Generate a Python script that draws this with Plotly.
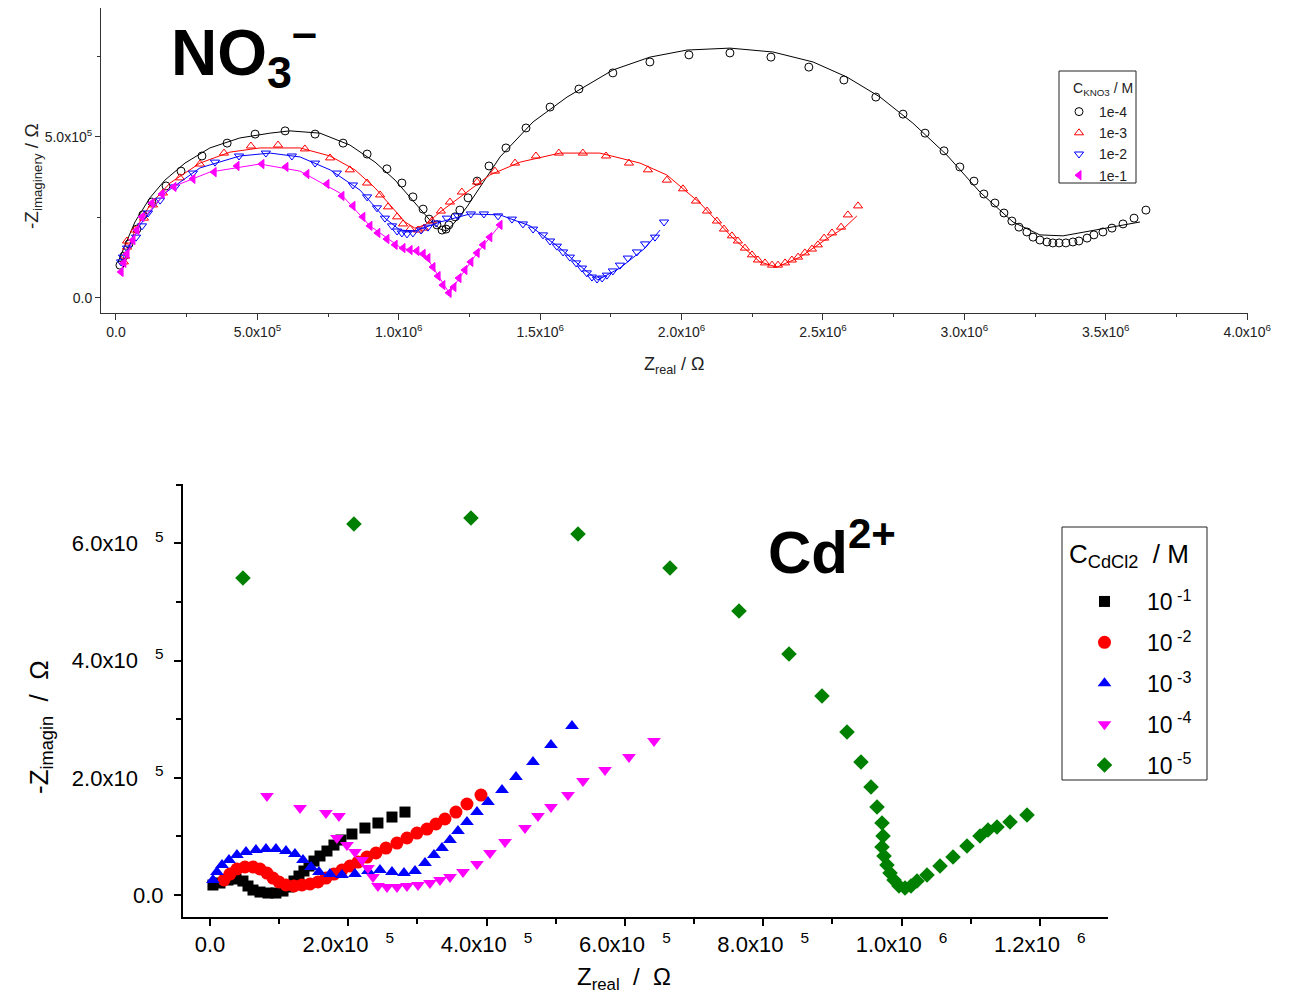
import numpy as np
import plotly.graph_objects as go

# ---------------- DATA (values in units of 1e5 Ohm) ----------------
# Top panel: NO3- (KNO3) Nyquist data + fits
kno3_labels = ["1e-4", "1e-3", "1e-2", "1e-1"]

no3_a_zre = [0.14, 0.28, 0.46, 0.74, 0.95, 1.27, 1.77, 2.30, 3.04, 3.93, 4.92, 5.98, 7.04, 8.03, 8.88, 9.58,
             10.11, 10.50, 10.86, 11.07, 11.35, 11.53, 11.67, 11.77, 11.99, 12.16, 12.45, 12.77, 13.19, 13.79,
             14.50, 15.35, 16.37, 17.57, 18.88, 20.26, 21.71, 23.16, 24.50, 25.74, 26.87, 27.83, 28.61, 29.28,
             29.84, 30.34, 30.69, 31.08, 31.40, 31.68, 31.93, 32.21, 32.43, 32.67, 32.92, 33.13, 33.35, 33.59,
             33.84, 34.05, 34.34, 34.58, 34.90, 35.22, 35.61, 36.00, 36.42]
no3_a_zim = [1.02, 1.30, 1.68, 2.14, 2.58, 2.98, 3.48, 3.94, 4.41, 4.81, 5.09, 5.19, 5.09, 4.81, 4.47, 4.01,
             3.57, 3.14, 2.76, 2.45, 2.27, 2.11, 2.14, 2.27, 2.52, 2.73, 3.11, 3.63, 4.10, 4.66,
             5.28, 5.93, 6.49, 6.99, 7.33, 7.55, 7.61, 7.48, 7.17, 6.77, 6.24, 5.71, 5.12, 4.57,
             4.07, 3.63, 3.23, 2.95, 2.64, 2.39, 2.20, 2.05, 1.89, 1.80, 1.74, 1.71, 1.71, 1.71,
             1.74, 1.77, 1.86, 1.96, 2.05, 2.17, 2.30, 2.48, 2.73]
no3_a_fit_zre = [0.07, 0.32, 0.67, 1.20, 1.73, 2.44, 3.32, 4.38, 5.45, 6.15, 7.21, 8.27, 9.16, 9.87, 10.57,
                 11.10, 11.46, 11.70, 11.99, 12.41, 13.58, 14.75, 15.95, 17.57, 18.88, 20.19, 21.71, 23.23,
                 24.65, 25.85, 27.02, 28.18, 29.38, 30.55, 31.72, 32.67, 33.49, 34.69, 36.21]
no3_a_fit_zim = [1.12, 1.65, 2.36, 3.11, 3.66, 4.19, 4.66, 4.97, 5.12, 5.19, 5.12, 4.75, 4.22, 3.66, 2.95,
                 2.42, 2.14, 2.08, 2.36, 2.83, 4.38, 5.47, 6.24, 7.08, 7.48, 7.70, 7.76, 7.64,
                 7.33, 6.86, 6.24, 5.43, 4.44, 3.29, 2.36, 1.96, 1.93, 2.11, 2.36]

no3_b_zre = [0.28, 0.32, 0.39, 0.39, 0.67, 0.99, 1.31, 1.66, 2.26, 2.97, 3.82, 4.77, 5.73, 6.68, 7.57, 8.27,
             8.88, 9.34, 9.62, 9.94, 10.15, 10.40, 10.68, 10.89, 11.17, 11.49, 11.81, 12.23, 12.77, 13.40,
             14.11, 14.85, 15.66, 16.51, 17.33, 18.14, 18.81, 19.48, 20.05, 20.51, 20.90, 21.25, 21.50,
             21.78, 21.99, 22.24, 22.49, 22.70, 22.95, 23.20, 23.41, 23.66, 23.90, 24.12, 24.36, 24.61,
             24.82, 25.04, 25.32, 25.64, 25.88, 26.24]
no3_b_zim = [1.12, 1.30, 1.58, 1.77, 2.11, 2.48, 2.89, 3.26, 3.73, 4.16, 4.50, 4.72, 4.75, 4.63, 4.35, 3.98,
             3.57, 3.20, 2.83, 2.52, 2.30, 2.14, 2.11, 2.17, 2.39, 2.70, 2.98, 3.29, 3.60, 3.94,
             4.19, 4.41, 4.50, 4.50, 4.41, 4.19, 3.98, 3.66, 3.39, 3.01, 2.70, 2.39, 2.14,
             1.93, 1.77, 1.55, 1.34, 1.18, 1.09, 1.02, 1.02, 1.09, 1.18, 1.27, 1.40, 1.52,
             1.65, 1.86, 2.02, 2.20, 2.58, 2.86]
no3_b_fit_zre = [0.32, 0.67, 1.20, 1.91, 2.97, 4.03, 5.09, 6.51, 7.57, 8.45, 9.16, 9.69, 10.22, 10.57, 10.93,
                 11.46, 12.52, 13.22, 14.29, 15.70, 17.11, 18.53, 19.48, 20.65, 21.82, 22.77, 23.37, 24.19,
                 25.07, 25.78, 26.20]
no3_b_fit_zim = [1.24, 2.11, 2.89, 3.57, 4.19, 4.53, 4.66, 4.66, 4.41, 3.98, 3.42, 2.89, 2.36, 2.17, 2.27,
                 2.67, 3.35, 3.82, 4.22, 4.50, 4.50, 4.19, 3.82, 2.95, 1.86, 1.12, 0.96, 1.27,
                 1.80, 2.20, 2.55]

no3_c_zre = [0.18, 0.25, 0.39, 0.71, 0.92, 1.13, 1.56, 2.09, 2.72, 3.50, 4.35, 5.30, 6.22, 7.04, 7.81, 8.38,
             8.88, 9.23, 9.51, 9.76, 9.94, 10.11, 10.29, 10.50, 10.79, 11.03, 11.32, 11.70, 12.09, 12.55,
             13.01, 13.51, 14.00, 14.39, 14.75, 15.10, 15.35, 15.59, 15.81, 16.05, 16.27, 16.48, 16.65,
             16.83, 17.01, 17.19, 17.36, 17.57, 17.82, 18.10, 18.42, 18.71, 19.06, 19.38]
no3_c_zim = [1.12, 1.27, 1.55, 1.89, 2.24, 2.64, 3.04, 3.45, 3.88, 4.22, 4.41, 4.50, 4.41, 4.19, 3.88, 3.51,
             3.14, 2.80, 2.48, 2.24, 2.08, 2.02, 1.99, 2.02, 2.11, 2.20, 2.33, 2.48, 2.55, 2.61,
             2.61, 2.55, 2.45, 2.30, 2.14, 1.96, 1.77, 1.61, 1.43, 1.27, 1.09, 0.93, 0.78,
             0.65, 0.59, 0.62, 0.71, 0.84, 1.02, 1.24, 1.43, 1.68, 1.89, 2.36]
no3_c_fit_zre = [0.25, 0.85, 1.73, 2.97, 4.38, 5.45, 6.51, 7.57, 8.63, 9.51, 10.04, 10.57, 11.46, 12.52,
                 13.58, 14.64, 15.70, 16.58, 17.04, 17.82, 18.71, 19.24]
no3_c_fit_zim = [1.24, 2.27, 3.26, 4.04, 4.41, 4.50, 4.38, 3.98, 3.35, 2.48, 2.11, 2.08, 2.36, 2.61,
                 2.58, 2.24, 1.55, 0.87, 0.56, 0.93, 1.55, 2.11]

no3_d_zre = [0.18, 0.28, 0.39, 0.60, 0.74, 0.92, 1.27, 1.63, 2.05, 2.72, 3.47, 4.28, 5.16, 6.01, 6.75, 7.46,
             7.99, 8.38, 8.73, 8.98, 9.26, 9.58, 9.87, 10.15, 10.40, 10.64, 10.86, 11.03, 11.21, 11.39,
             11.56, 11.78, 11.95, 12.13, 12.34, 12.55, 12.77, 12.98, 13.22, 13.58]
no3_d_zim = [0.81, 1.09, 1.37, 1.80, 2.11, 2.52, 2.95, 3.23, 3.45, 3.70, 3.91, 4.10, 4.16, 4.07, 3.85, 3.54,
             3.17, 2.86, 2.52, 2.24, 2.02, 1.83, 1.65, 1.55, 1.49, 1.46, 1.37, 1.24, 0.96, 0.68,
             0.40, 0.16, 0.34, 0.62, 0.87, 1.12, 1.40, 1.65, 1.89, 2.27]
no3_d_fit_zre = [0.18, 0.85, 1.91, 3.32, 5.09, 6.51, 7.92, 8.98, 10.04, 10.93, 11.78, 12.69, 13.58]
no3_d_fit_zim = [0.87, 2.36, 3.42, 3.91, 4.16, 3.94, 3.26, 2.24, 1.58, 1.34, 0.16, 1.30, 2.27]

# Bottom panel: Cd2+ (CdCl2) Nyquist data
cdcl2_labels = ["10<sup>&nbsp;-1</sup>", "10<sup>&nbsp;-2</sup>", "10<sup>&nbsp;-3</sup>",
                "10<sup>&nbsp;-4</sup>", "10<sup>&nbsp;-5</sup>"]

cd_1_zre = [0.043, 0.145, 0.260, 0.376, 0.477, 0.550, 0.622, 0.723, 0.839, 0.954, 1.056, 1.142, 1.215,
            1.287, 1.359, 1.432, 1.504, 1.591, 1.692, 1.793, 1.894, 2.053, 2.241, 2.429, 2.632, 2.820]
cd_1_zim = [0.171, 0.205, 0.256, 0.273, 0.239, 0.154, 0.085, 0.051, 0.034, 0.034, 0.068, 0.137, 0.239,
            0.324, 0.410, 0.495, 0.580, 0.666, 0.751, 0.853, 0.939, 1.041, 1.143, 1.229, 1.331, 1.416]

cd_2_zre = [0.202, 0.289, 0.390, 0.506, 0.622, 0.723, 0.824, 0.911, 0.998, 1.099, 1.215, 1.330, 1.446,
            1.562, 1.677, 1.793, 1.909, 2.025, 2.140, 2.270, 2.401, 2.545, 2.704, 2.849, 2.993, 3.138,
            3.268, 3.398, 3.557, 3.716, 3.919]
cd_2_zim = [0.256, 0.358, 0.444, 0.478, 0.478, 0.444, 0.375, 0.290, 0.222, 0.171, 0.154, 0.171, 0.188,
            0.222, 0.290, 0.358, 0.427, 0.495, 0.563, 0.648, 0.717, 0.802, 0.887, 0.973, 1.058, 1.126,
            1.212, 1.297, 1.416, 1.553, 1.706]

cd_3_zre = [0.043, 0.101, 0.174, 0.275, 0.390, 0.521, 0.665, 0.810, 0.954, 1.099, 1.229, 1.345, 1.461,
            1.576, 1.735, 1.909, 2.097, 2.285, 2.458, 2.632, 2.805, 2.965, 3.109, 3.239, 3.355, 3.471,
            3.586, 3.716, 3.861, 4.020, 4.223, 4.425, 4.671, 4.931, 5.235]
cd_3_zim = [0.256, 0.392, 0.512, 0.597, 0.683, 0.734, 0.768, 0.785, 0.785, 0.751, 0.700, 0.597, 0.478,
            0.392, 0.358, 0.341, 0.358, 0.410, 0.427, 0.392, 0.375, 0.410, 0.546, 0.683, 0.802, 0.939,
            1.092, 1.246, 1.416, 1.587, 1.792, 2.014, 2.270, 2.560, 2.884]

cd_4_zre = [0.824, 1.302, 1.677, 1.865, 1.836, 1.981, 2.097, 2.198, 2.285, 2.357, 2.429, 2.560, 2.704,
            2.849, 3.008, 3.181, 3.326, 3.471, 3.659, 3.861, 4.049, 4.266, 4.555, 4.743, 4.931, 5.177,
            5.394, 5.712, 6.059, 6.421]
cd_4_zim = [1.689, 1.485, 1.399, 1.348, 0.973, 0.853, 0.734, 0.597, 0.461, 0.307, 0.154, 0.137, 0.137,
            0.154, 0.171, 0.205, 0.256, 0.307, 0.392, 0.529, 0.717, 0.904, 1.143, 1.348, 1.502, 1.706,
            1.945, 2.133, 2.355, 2.628]

cd_5_zre = [0.477, 2.082, 3.774, 5.322, 6.652, 7.650, 8.373, 8.850, 9.212, 9.414, 9.559, 9.646, 9.718,
            9.733, 9.718, 9.747, 9.790, 9.834, 9.892, 9.964, 10.051, 10.137, 10.224, 10.369, 10.557,
            10.745, 10.947, 11.135, 11.251, 11.381, 11.569, 11.815]
cd_5_zim = [5.410, 6.331, 6.433, 6.160, 5.580, 4.846, 4.113, 3.396, 2.782, 2.270, 1.843, 1.502, 1.229,
            1.007, 0.819, 0.666, 0.512, 0.375, 0.256, 0.154, 0.119, 0.154, 0.239, 0.341, 0.495,
            0.648, 0.836, 1.007, 1.109, 1.160, 1.246, 1.365]

# Tick labels
top_x_ticks = [0, 5, 10, 15, 20, 25, 30, 35, 40]
top_x_text = ["0.0", "5.0x10<sup>5</sup>", "1.0x10<sup>6</sup>", "1.5x10<sup>6</sup>", "2.0x10<sup>6</sup>",
              "2.5x10<sup>6</sup>", "3.0x10<sup>6</sup>", "3.5x10<sup>6</sup>", "4.0x10<sup>6</sup>"]
top_y_ticks = [0, 5]
top_y_text = ["0.0", "5.0x10<sup>5</sup>"]
SP = "&nbsp;&nbsp;&nbsp;&nbsp;"
bot_x_ticks = [0, 2, 4, 6, 8, 10, 12]
bot_x_text = ["0.0", "2.0x10<sup>" + SP + "5</sup>", "4.0x10<sup>" + SP + "5</sup>",
              "6.0x10<sup>" + SP + "5</sup>", "8.0x10<sup>" + SP + "5</sup>",
              "1.0x10<sup>" + SP + "6</sup>", "1.2x10<sup>" + SP + "6</sup>"]
bot_y_ticks = [0, 2, 4, 6]
bot_y_text = ["0.0", "2.0x10<sup>" + SP + "5</sup>", "4.0x10<sup>" + SP + "5</sup>",
              "6.0x10<sup>" + SP + "5</sup>"]

UNIT = 1e5
OFF = 8                      # page body margin
W, H = 1298 - 2 * OFF, 1003 - 2 * OFF
FONT = "Liberation Sans, Arial, sans-serif"


def px_x(p):
    return (p - OFF) / W


def px_y(p):
    return 1 - (p - OFF) / H


fig = go.Figure()

# ---- top panel ----
top_series = [
    (no3_a_zre, no3_a_zim, no3_a_fit_zre, no3_a_fit_zim, "black", "circle-open", 8),
    (no3_b_zre, no3_b_zim, no3_b_fit_zre, no3_b_fit_zim, "red", "triangle-up-open", 8),
    (no3_c_zre, no3_c_zim, no3_c_fit_zre, no3_c_fit_zim, "blue", "triangle-down-open", 8),
    (no3_d_zre, no3_d_zim, no3_d_fit_zre, no3_d_fit_zim, "magenta", "triangle-left", 8),
]
for (zr, zi, fr, fi, col, sym, sz), lab in zip(top_series, kno3_labels):
    fig.add_trace(go.Scatter(x=np.array(fr) * UNIT, y=np.array(fi) * UNIT, mode="lines",
                             line=dict(color=col, width=1), showlegend=False, hoverinfo="skip",
                             xaxis="x", yaxis="y"))
    fig.add_trace(go.Scatter(x=np.array(zr) * UNIT, y=np.array(zi) * UNIT, mode="markers", name=lab,
                             marker=dict(symbol=sym, size=sz, color=col, line=dict(color=col, width=1)),
                             xaxis="x", yaxis="y", legend="legend"))

# ---- bottom panel ----
bot_series = [
    (cd_1_zre, cd_1_zim, "black", "square", 11),
    (cd_2_zre, cd_2_zim, "red", "circle", 13),
    (cd_3_zre, cd_3_zim, "blue", "triangle-up", 12),
    (cd_4_zre, cd_4_zim, "magenta", "triangle-down", 12),
    (cd_5_zre, cd_5_zim, "#008000", "diamond", 12),
]
for i, ((zr, zi, col, sym, sz), lab) in enumerate(zip(bot_series, cdcl2_labels)):
    fig.add_trace(go.Scatter(x=np.array(zr) * UNIT, y=np.array(zi) * UNIT, mode="markers", name=lab,
                             marker=dict(symbol=sym, size=sz, color=col, line=dict(width=0)),
                             xaxis="x2", yaxis="y2", legend="legend2", legendgroup="g%d" % i))

axis_common = dict(showgrid=False, zeroline=False, showline=True, ticks="outside", mirror=False,
                   automargin=False)

fig.update_layout(
    width=W, height=H, margin=dict(l=0, r=0, t=0, b=0, autoexpand=False),
    paper_bgcolor="white", plot_bgcolor="white",
    font=dict(family=FONT, color="#222"),
    xaxis=dict(**axis_common, domain=[px_x(101), px_x(1248)], range=[-0.53 * UNIT, 40.03 * UNIT],
               anchor="y", linecolor="#333", linewidth=1, tickcolor="#333", ticklen=6,
               tickvals=np.array(top_x_ticks) * UNIT, ticktext=top_x_text,
               tickfont=dict(size=14, family=FONT, color="#222"),
               minor=dict(ticks="outside", ticklen=3, tickcolor="#333", dtick=2.5 * UNIT, tick0=0)),
    yaxis=dict(**axis_common, domain=[px_y(313), px_y(8)], range=[-0.466 * UNIT, 9.006 * UNIT],
               anchor="x", linecolor="#333", linewidth=1, tickcolor="#333", ticklen=5,
               tickvals=np.array(top_y_ticks) * UNIT, ticktext=top_y_text,
               tickfont=dict(size=14, family=FONT, color="#222"),
               minor=dict(ticks="outside", ticklen=3, tickcolor="#333", dtick=2.5 * UNIT, tick0=0)),
    xaxis2=dict(**axis_common, domain=[px_x(183), px_x(1108)], range=[-0.39 * UNIT, 12.986 * UNIT],
                anchor="y2", linecolor="black", linewidth=2, tickcolor="black", ticklen=7, tickwidth=1.5,
                tickvals=np.array(bot_x_ticks) * UNIT, ticktext=bot_x_text,
                tickfont=dict(size=22, family=FONT, color="black"),
                minor=dict(ticks="outside", ticklen=5, tickcolor="black", dtick=1 * UNIT, tick0=0)),
    yaxis2=dict(**axis_common, domain=[px_y(917), px_y(484)], range=[-0.375 * UNIT, 7.014 * UNIT],
                anchor="x2", linecolor="black", linewidth=2, tickcolor="black", ticklen=7, tickwidth=1.5,
                tickvals=np.array(bot_y_ticks) * UNIT, ticktext=bot_y_text, ticklabelstandoff=6,
                tickfont=dict(size=22, family=FONT, color="black"),
                minor=dict(ticks="outside", ticklen=5, tickcolor="black", dtick=1 * UNIT, tick0=0)),
    legend=dict(x=px_x(1059), y=px_y(96), xanchor="left", yanchor="top",
                bgcolor="rgba(0,0,0,0)", borderwidth=0,
                font=dict(size=14, family=FONT, color="#222"),
                itemwidth=30, tracegroupgap=0),
    legend2=dict(x=px_x(1062), y=px_y(580), xanchor="left", yanchor="top",
                 bgcolor="rgba(0,0,0,0)", borderwidth=0,
                 font=dict(size=23, family=FONT, color="black"),
                 itemwidth=75, tracegroupgap=8, traceorder="grouped"),
    shapes=[
        dict(type="rect", xref="paper", yref="paper", x0=px_x(1059), x1=px_x(1136),
             y0=px_y(183), y1=px_y(71), line=dict(color="#222", width=1), fillcolor="white", layer="below"),
        dict(type="rect", xref="paper", yref="paper", x0=px_x(1062), x1=px_x(1207),
             y0=px_y(780), y1=px_y(527), line=dict(color="#222", width=1), fillcolor="white", layer="below"),
    ],
    annotations=[
        dict(text="C<sub>KNO3</sub> / M", x=px_x(1071), y=px_y(89), xref="paper", yref="paper",
             xanchor="left", yanchor="middle", showarrow=False,
             font=dict(size=14, family=FONT, color="#222")),
        dict(text="C<sub>CdCl2</sub>&nbsp;&nbsp;/ M", x=px_x(1067), y=px_y(555), xref="paper", yref="paper",
             xanchor="left", yanchor="middle", showarrow=False,
             font=dict(size=26, family=FONT, color="black")),
        dict(text="<b>NO<sub>3</sub><sup>–</sup></b>", x=px_x(169), y=px_y(52), xref="paper", yref="paper",
             xanchor="left", yanchor="middle", showarrow=False,
             font=dict(size=64, family=FONT, color="black")),
        dict(text="<b>Cd<sup>2+</sup></b>", x=px_x(766), y=px_y(548), xref="paper", yref="paper",
             xanchor="left", yanchor="middle", showarrow=False,
             font=dict(size=60, family=FONT, color="black")),
        dict(text="-Z<sub>imaginery</sub> / Ω", x=px_x(33), y=px_y(176), xref="paper", yref="paper",
             xanchor="center", yanchor="middle", textangle=-90, showarrow=False,
             font=dict(size=19, family=FONT, color="#222")),
        dict(text="Z<sub>real</sub> / Ω", x=px_x(674), y=px_y(366), xref="paper", yref="paper",
             xanchor="center", yanchor="middle", showarrow=False,
             font=dict(size=18, family=FONT, color="#222")),
        dict(text="-Z<sub>imagin</sub>&nbsp; / &nbsp;Ω", x=px_x(40), y=px_y(727), xref="paper", yref="paper",
             xanchor="center", yanchor="middle", textangle=-90, showarrow=False,
             font=dict(size=26, family=FONT, color="black")),
        dict(text="Z<sub>real</sub>&nbsp; / &nbsp;Ω", x=px_x(624), y=px_y(978), xref="paper", yref="paper",
             xanchor="center", yanchor="middle", showarrow=False,
             font=dict(size=24, family=FONT, color="black")),
    ],
)

fig.write_html("out.html")
